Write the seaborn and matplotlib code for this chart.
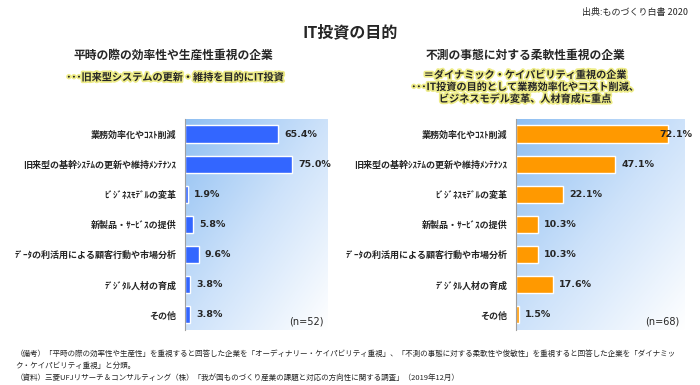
import numpy as np
import matplotlib
matplotlib.use('Agg')
import matplotlib.pyplot as plt
import matplotlib.patheffects as pe
from matplotlib.colors import LinearSegmentedColormap
import seaborn as sns

# data
categories = ['業務効率化やｺｽﾄ削減', '旧来型の基幹ｼｽﾃﾑの更新や維持ﾒﾝﾃﾅﾝｽ', 'ﾋﾞｼﾞﾈｽﾓﾃﾞﾙの変革',
              '新製品・ｻｰﾋﾞｽの提供', 'ﾃﾞｰﾀの利活用による顧客行動や市場分析', 'ﾃﾞｼﾞﾀﾙ人材の育成', 'その他']
ordinary_values = [65.4, 75.0, 1.9, 5.8, 9.6, 3.8, 3.8]
dynamic_values = [72.1, 47.1, 22.1, 10.3, 10.3, 17.6, 1.5]
ordinary_n = '(n=52)'
dynamic_n = '(n=68)'

sns.set_style('white')
plt.rcParams['font.family'] = ['Noto Sans CJK JP', 'DejaVu Sans']

fig = plt.figure(figsize=(7, 3.85), dpi=100)

grad_cmap = LinearSegmentedColormap.from_list('bg', ['#8fbff2', '#cde2fa', '#ffffff'])
u, v = np.meshgrid(np.linspace(0, 1, 200), np.linspace(0, 1, 200))
grad = (u + v) / 2


def draw_panel(rect, values, color, xmax, n_label):
    ax = fig.add_axes(rect)
    ax.imshow(grad, cmap=grad_cmap, extent=(0, xmax, 6.5, -0.5), aspect='auto', zorder=0)
    sns.barplot(x=values, y=categories, color=color, saturation=1, width=0.57,
                orient='h', ax=ax, zorder=2)
    ax.set_xlim(0, xmax)
    ax.set_ylim(6.5, -0.5)
    for i, val in enumerate(values):
        off = -6.5 if val / xmax > 0.85 else 4.5
        ax.annotate(f'{val:.1f}%', (val, i), xytext=(off, 0), textcoords='offset points',
                    ha='left', va='center', fontsize=6.8, fontweight='bold',
                    family='DejaVu Sans', zorder=3, annotation_clip=False)
    ax.set_xticks([])
    ax.set_xlabel('')
    ax.set_ylabel('')
    ax.tick_params(axis='y', length=0, pad=6)
    for lab in ax.get_yticklabels():
        lab.set_fontsize(6.5)
        lab.set_fontweight('bold')
    for s in ['top', 'right', 'bottom']:
        ax.spines[s].set_visible(False)
    ax.spines['left'].set_color('#a0a0a0')
    ax.spines['left'].set_linewidth(0.8)
    ax.text(0.97, 0.04, n_label, transform=ax.transAxes, ha='right', va='center',
            fontsize=7, family='DejaVu Sans')
    return ax


draw_panel([0.264, 0.143, 0.204, 0.548], ordinary_values, '#3366ff', 100, ordinary_n)
draw_panel([0.737, 0.143, 0.241, 0.548], dynamic_values, '#ff9900', 80, dynamic_n)

glow = [pe.withStroke(linewidth=2.5, foreground='#eeec88')]

fig.text(0.983, 0.968, '出典:ものづくり白書 2020', ha='right', va='center', fontsize=6.5)
fig.text(0.5, 0.917, 'IT投資の目的', ha='center', va='center', fontsize=11.5, fontweight='bold')

fig.text(0.247, 0.857, '平時の際の効率性や生産性重視の企業', ha='center', va='center',
         fontsize=8.5, fontweight='bold')
fig.text(0.25, 0.799, '･･･旧来型システムの更新・維持を目的にIT投資', ha='center', va='center',
         fontsize=7.3, fontweight='bold', path_effects=glow)

fig.text(0.75, 0.857, '不測の事態に対する柔軟性重視の企業', ha='center', va='center',
         fontsize=8.5, fontweight='bold')
fig.text(0.75, 0.805, '＝ダイナミック・ケイパビリティ重視の企業', ha='center', va='center',
         fontsize=7.3, fontweight='bold', path_effects=glow)
fig.text(0.75, 0.774, '･･･IT投資の目的として業務効率化やコスト削減、', ha='center', va='center',
         fontsize=7.3, fontweight='bold', path_effects=glow)
fig.text(0.75, 0.743, 'ビジネスモデル変革、人材育成に重点', ha='center', va='center',
         fontsize=7.3, fontweight='bold', path_effects=glow)

notes = [
    '（備考）「平時の際の効率性や生産性」を重視すると回答した企業を「オーディナリー・ケイパビリティ重視」、「不測の事態に対する柔軟性や俊敏性」を重視すると回答した企業を「ダイナミッ',
    'ク・ケイパビリティ重視」と分類。',
    '（資料）三菱UFJリサーチ＆コンサルティング（株）「我が国ものづくり産業の課題と対応の方向性に関する調査」（2019年12月）',
]
for k, line in enumerate(notes):
    fig.text(0.022, 0.081 - k * 0.031, line, ha='left', va='center', fontsize=5.45)

fig.savefig('out.png', dpi=100)
